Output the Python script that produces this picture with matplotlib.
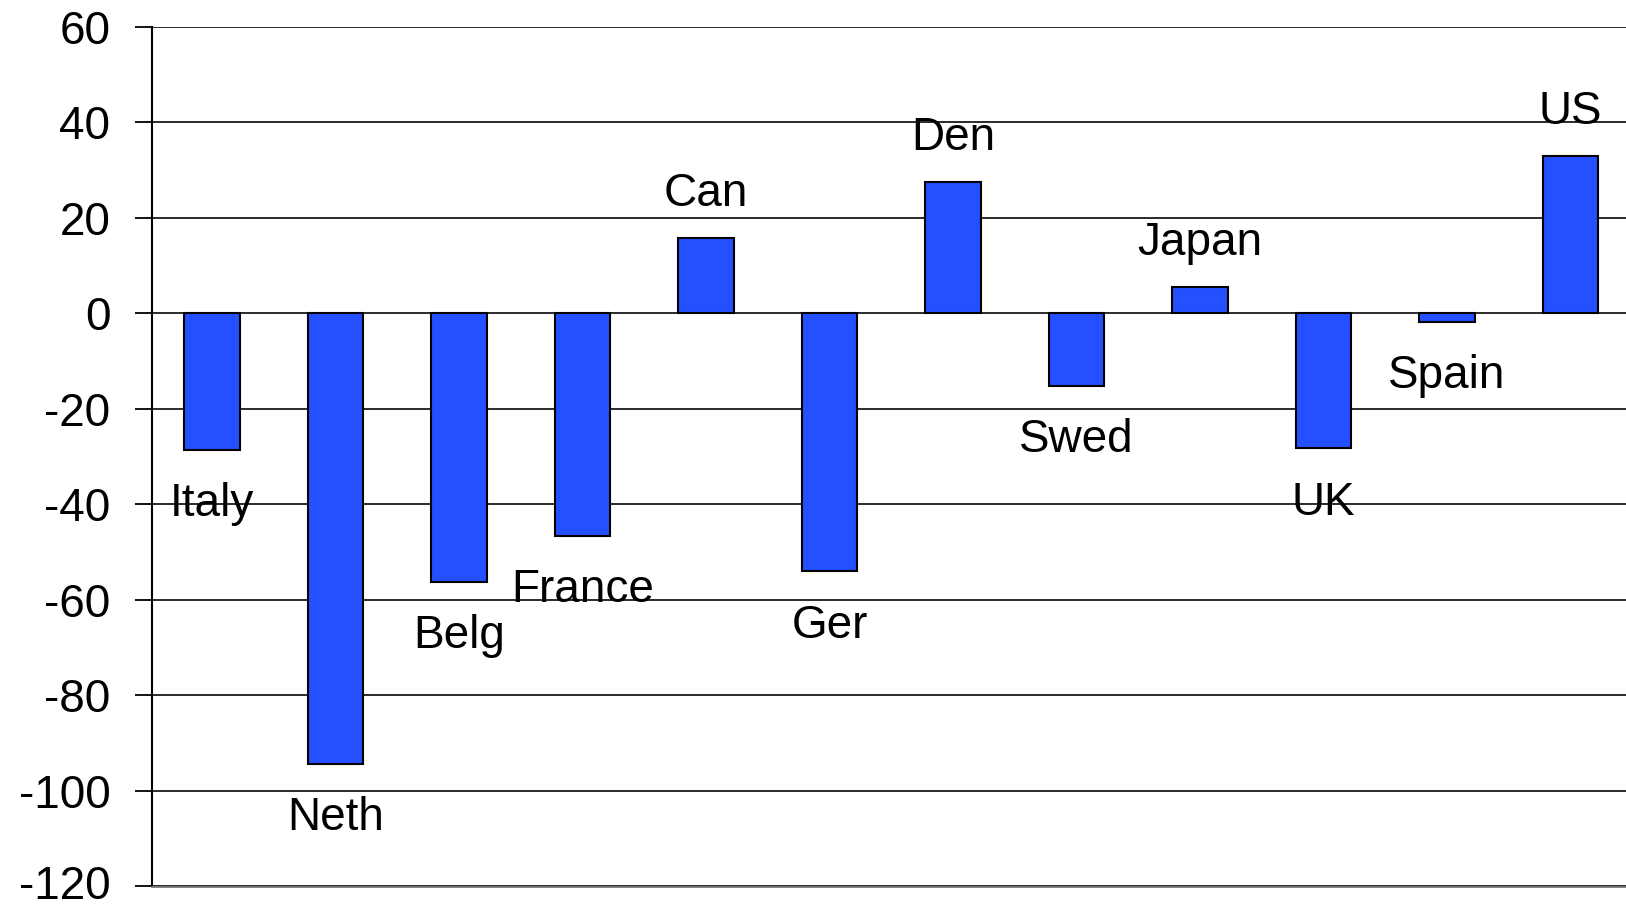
import matplotlib
matplotlib.use("Agg")
import matplotlib.pyplot as plt
import matplotlib.transforms as mtransforms
import numpy as np

countries = ['Italy', 'Neth', 'Belg', 'France', 'Can', 'Ger', 'Den',
             'Swed', 'Japan', 'UK', 'Spain', 'US']
values = [-28.6, -94.3, -56.2, -46.6, 15.9, -54.0, 27.6,
          -15.1, 5.5, -28.2, -1.7, 33.0]
yticks = [60, 40, 20, 0, -20, -40, -60, -80, -100, -120]

plt.rcParams['font.family'] = ['Liberation Sans', 'DejaVu Sans']

fig = plt.figure(figsize=(16.26, 9.07), dpi=100)
# axes runs slightly past the right edge, like the cropped original
ax = fig.add_axes([152 / 1626, 20.5 / 907, 1480.3 / 1626, 859.5 / 907])

x = np.arange(len(countries))
ax.bar(x, values, width=0.45, color='#2450FF', edgecolor='black',
       linewidth=1.5, zorder=3)

# data labels sit just beyond the end of each bar
for xi, v, name in zip(x, values, countries):
    ly = v + 9.2 if v > 0 else v - 11.4
    ax.text(xi, ly, name, ha='center', va='center', fontsize=33, zorder=4)

ax.set_xlim(-0.486, len(countries) - 0.5)
ax.set_ylim(-120, 60)
ax.set_yticks(yticks)
ax.set_yticklabels([str(t) for t in yticks], fontsize=33)
ax.tick_params(axis='y', length=12, width=1.3, pad=18, color='black')
ax.tick_params(axis='x', length=0, labelbottom=False)

# keep the lowest tick label inside the canvas
for lab in ax.get_yticklabels():
    if lab.get_text() == '-120':
        lab.set_transform(lab.get_transform() +
                          mtransforms.ScaledTranslation(0, 4 / 100, fig.dpi_scale_trans))

ax.grid(axis='y', color='#1a1a1a', linewidth=1.3, zorder=0)
for side in ['top', 'right']:
    ax.spines[side].set_visible(False)
ax.spines['left'].set_linewidth(1.5)
ax.spines['bottom'].set_color('#777777')
ax.spines['bottom'].set_linewidth(1.3)

fig.savefig('out.png', dpi=100)
